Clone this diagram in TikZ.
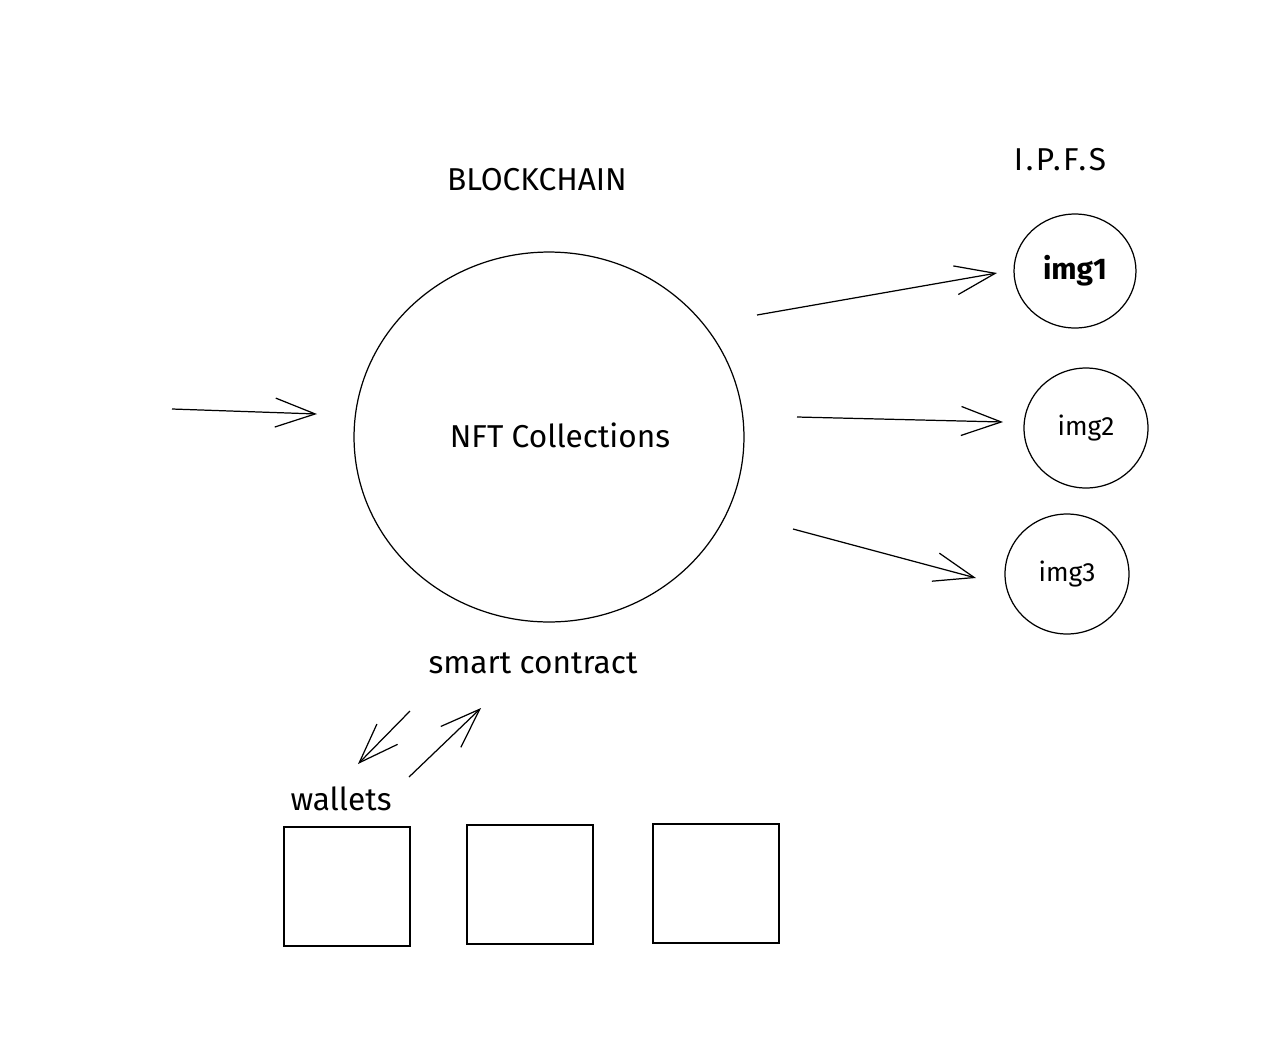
\documentclass[tikz,border=0pt]{standalone}
\usepackage{fontspec}
\setmainfont{Fira Sans}
\usetikzlibrary{arrows.meta,shapes.geometric}
\begin{document}
\begin{tikzpicture}[x=0.02cm,y=-0.02cm,
  line width=0.7pt,
  conn/.style={draw, -{Straight Barb[length=0.8cm,width=0.58cm,line width=0.7pt]}},
  circ/.style={draw, ellipse, inner sep=0pt},
  wbox/.style={draw, rectangle, minimum width=2.52cm, minimum height=2.38cm, inner sep=0pt},
  lbl/.style={font=\fontsize{18}{21}\selectfont},
  ilbl/.style={font=\fontsize{15}{18}\selectfont}]
\useasboundingbox (0,0) rectangle (1282,1042);
\node[lbl] (bc) at (537,180) {BLOCKCHAIN};
\node[lbl] (ipfs) at (1060,160) {\addfontfeature{LetterSpace=8}I.P.F.S};
\node[circ, minimum width=7.8cm, minimum height=7.4cm] (big) at (549,437) {};
\node[lbl] (nft) at (560,435) {NFT Collections};
\node[circ, minimum width=2.44cm, minimum height=2.28cm, font=\fontsize{17}{20}\selectfont\bfseries] (img1) at (1075,271) {img1};
\node[circ, minimum width=2.48cm, minimum height=2.4cm, ilbl] (img2) at (1086,428) {img2};
\node[circ, minimum width=2.48cm, minimum height=2.4cm, ilbl] (img3) at (1067,574) {img3};
\node[lbl] (sc) at (533,663) {smart contract};
\node[lbl] (wal) at (341,799) {wallets};
\node[wbox] (w1) at (347,886.5) {};
\node[wbox] (w2) at (530,884.5) {};
\node[wbox] (w3) at (716,883.5) {};
% arrow endpoints
\coordinate (in0) at (172,409);
\coordinate (in1) at (317,414);
\coordinate (a1s) at (757,315);
\coordinate (a1e) at (997,273);
\coordinate (a2s) at (797,417);
\coordinate (a2e) at (1003,422);
\coordinate (a3s) at (793,529);
\coordinate (a3e) at (976,578);
\coordinate (d1s) at (410,711);
\coordinate (d1e) at (358,764);
\coordinate (u1s) at (409,777);
\coordinate (u1e) at (481,708);
\draw[conn] (in0) -- (in1);
\draw[conn] (a1s) -- (a1e);
\draw[conn] (a2s) -- (a2e);
\draw[conn] (a3s) -- (a3e);
\draw[conn] (d1s) -- (d1e);
\draw[conn] (u1s) -- (u1e);
\end{tikzpicture}
\end{document}
